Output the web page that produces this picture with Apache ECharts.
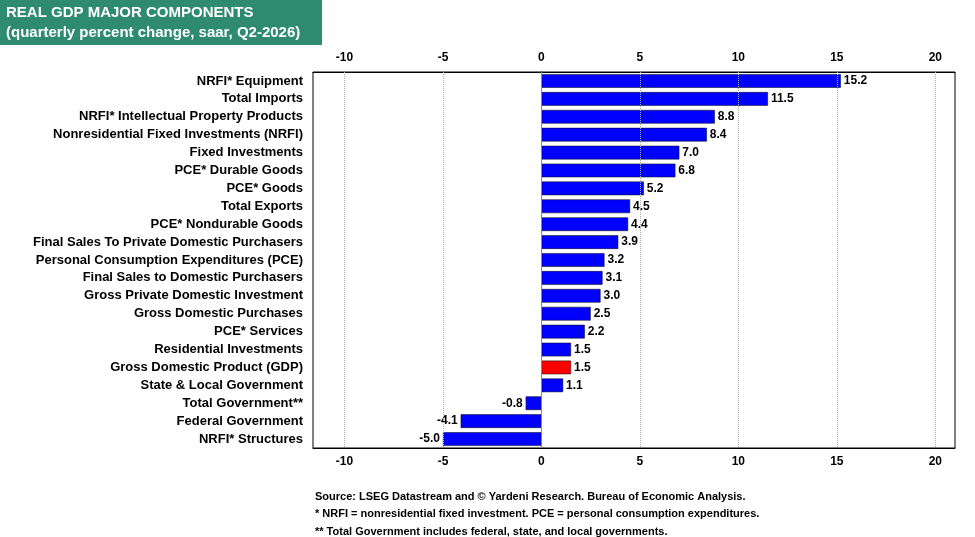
<!DOCTYPE html>
<html><head><meta charset="utf-8">
<script src="https://cdn.jsdelivr.net/npm/echarts@6/dist/echarts.min.js"></script>
<style>body{margin:0;background:#fff}#c{width:975px;height:537px}</style>
</head><body><div id="c"></div>
<script>
const categories = ["NRFI* Equipment","Total Imports","NRFI* Intellectual Property Products","Nonresidential Fixed Investments (NRFI)","Fixed Investments","PCE* Durable Goods","PCE* Goods","Total Exports","PCE* Nondurable Goods","Final Sales To Private Domestic Purchasers","Personal Consumption Expenditures (PCE)","Final Sales to Domestic Purchasers","Gross Private Domestic Investment","Gross Domestic Purchases","PCE* Services","Residential Investments","Gross Domestic Product (GDP)","State & Local Government","Total Government**","Federal Government","NRFI* Structures"];
const values = [15.2,11.5,8.8,8.4,7.0,6.8,5.2,4.5,4.4,3.9,3.2,3.1,3.0,2.5,2.2,1.5,1.5,1.1,-0.8,-4.1,-5.0];
const highlight = "Gross Domestic Product (GDP)";
const tickValues = [-10,-5,0,5,10,15,20];
const xmin = -11.6, xmax = 21;
const font = '"Liberation Sans", Arial, sans-serif';
const xAx = pos => ({type:'value',position:pos,min:xmin,max:xmax,
  axisLine:{show:true,lineStyle:{color:'#000'}},
  axisTick:{show:false},splitLine:{show:false},
  axisLabel:{customValues:tickValues,color:'#000',fontWeight:'bold',fontSize:12,fontFamily:font,margin:8}});
const chart = echarts.init(document.getElementById('c'));
chart.setOption({
  animation:false,
  grid:{left:313,right:20,top:72,bottom:89,containLabel:false,show:true,borderColor:'#000',borderWidth:1},
  xAxis:[xAx('top'),xAx('bottom')],
  yAxis:{type:'category',data:categories,inverse:true,
    axisLine:{show:true,lineStyle:{color:'#000'}},axisTick:{show:false},
    axisLabel:{color:'#000',fontWeight:'bold',fontSize:13,fontFamily:font,margin:10}},
  series:[
   {type:'line',xAxisIndex:1,data:[],z:1,
    markLine:{silent:true,symbol:'none',label:{show:false},
      data:tickValues.map(v=>({xAxis:v,lineStyle:{color:v===0?'#888':'#aaa',type:v===0?'solid':'dotted',width:1}}))}},
   {type:'bar',xAxisIndex:1,barWidth:'76%',z:3,
    data:values.map((v,i)=>({value:v,itemStyle:{color:categories[i]===highlight?'#ff0000':'#0000ff',borderColor:'#000',borderWidth:0.5},
      label:{position:v<0?'left':'right'}})),
    label:{show:true,formatter:p=>p.value.toFixed(1),color:'#000',fontWeight:'bold',fontSize:12,fontFamily:font,distance:3}}
  ],
  graphic:[
    {type:'rect',shape:{x:0,y:0,width:322,height:45},style:{fill:'#2e8b6e'}},
    {type:'text',left:6,top:3,style:{text:'REAL GDP MAJOR COMPONENTS\n(quarterly percent change, saar, Q2-2026)',fill:'#fff',font:'bold 15px '+font,lineHeight:20}},
    {type:'text',left:315,top:488,style:{text:'Source: LSEG Datastream and © Yardeni Research. Bureau of Economic Analysis.\n* NRFI = nonresidential fixed investment. PCE = personal consumption expenditures.\n** Total Government includes federal, state, and local governments.',fill:'#000',font:'bold 11px '+font,lineHeight:17.5}}
  ]
});
</script></body></html>
